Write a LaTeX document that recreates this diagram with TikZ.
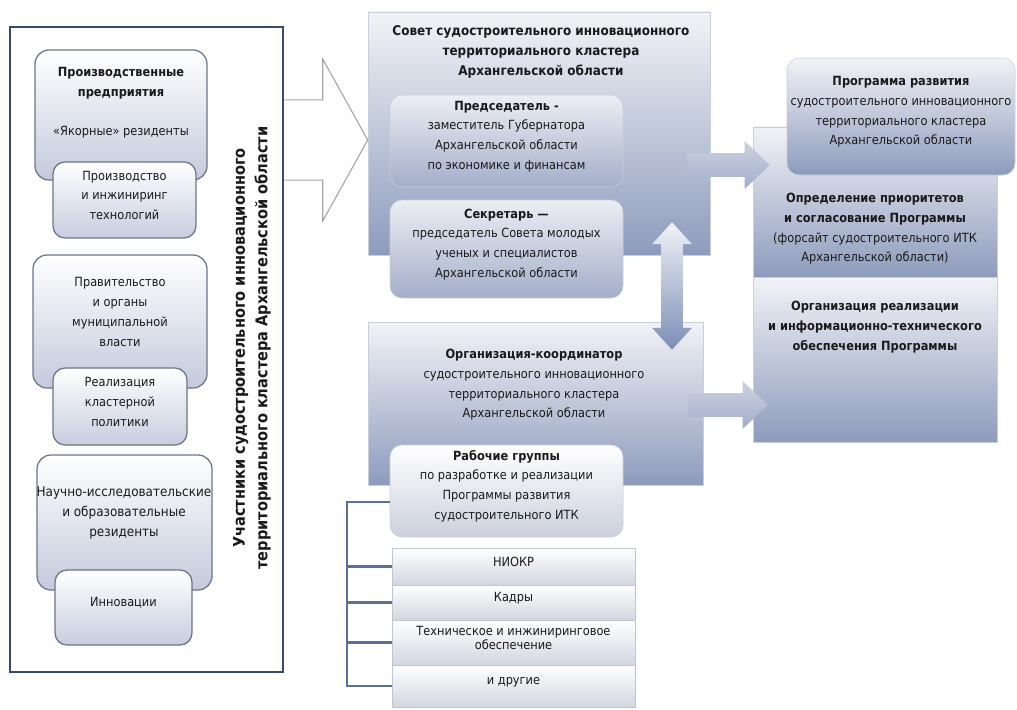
\documentclass[tikz,border=0pt]{standalone}
\usepackage{fontspec}
\setmainfont{DejaVu Sans Condensed}
\usetikzlibrary{fit,calc}

\definecolor{ink}{HTML}{1A1A1A}
\definecolor{framecol}{HTML}{3B4A6A}
\definecolor{edgegray}{HTML}{6C7488}
\definecolor{partlow}{HTML}{C3CADC}
\definecolor{sublow}{HTML}{C6CDDE}
\definecolor{paneltop}{HTML}{F2F3F7}
\definecolor{panellow}{HTML}{8D9BBC}
\definecolor{innertop}{HTML}{ECEEF4}
\definecolor{innerlow}{HTML}{A3AEC9}
\definecolor{innerline}{HTML}{C9CED9}
\definecolor{wglow}{HTML}{CBD0DD}
\definecolor{rowlow}{HTML}{D2D6E0}
\definecolor{rowline}{HTML}{C0C5CF}
\definecolor{bracketblue}{HTML}{5C6F95}
\definecolor{arrowtop}{HTML}{CDD2E2}
\definecolor{arrowmid}{HTML}{EEEFF4}
\definecolor{arrowlow}{HTML}{A2ADC9}
\definecolor{varrowtop}{HTML}{F1F3F7}
\definecolor{varrowlow}{HTML}{7A8EB5}
\definecolor{hollowline}{HTML}{A6A6A6}

\tikzset{
  every node/.style={font=\fontsize{9}{14}\selectfont, text=ink},
  txt/.style={align=center, inner sep=0pt},
  frame/.style={draw=framecol, line width=2pt, inner sep=0pt},
  partbox/.style={draw=edgegray, line width=0.9pt, rounded corners=0.35cm,
    top color=white, bottom color=partlow, inner sep=0pt, align=center},
  subbox/.style={partbox, rounded corners=0.3cm, bottom color=sublow},
  panel/.style={draw=innerline, line width=0.4pt, top color=paneltop,
    bottom color=panellow, inner sep=0pt},
  innerbox/.style={draw=innerline, line width=0.4pt, rounded corners=0.3cm,
    top color=innertop, bottom color=innerlow, inner sep=0pt, align=center},
  wgbox/.style={innerbox, top color=white, bottom color=wglow},
  rowbox/.style={draw=rowline, line width=0.4pt, top color=white,
    bottom color=rowlow, inner sep=0pt, align=center},
  bracket/.style={draw=bracketblue, line width=1.8pt},
  hollowarrow/.style={draw=hollowline, line width=0.8pt, fill=white},
  flatarrow/.style={top color=arrowtop, middle color=arrowmid, bottom color=arrowlow},
  tallarrow/.style={top color=varrowtop, bottom color=varrowlow}
}

\begin{document}
\begin{tikzpicture}[x=0.025cm,y=-0.025cm]
\useasboundingbox (0,0) rectangle (1017,709);

% participants
\node[frame, fit={(10,27) (283,672)}] (part) {};
\node[partbox, fit={(35,50) (207,180)}] (prod) {};
\node[txt] (prodtxt) at (121,103) {\textbf{Производственные}\\\textbf{предприятия}\\[14pt]«Якорные» резиденты};
\node[subbox, fit={(53,162) (196,238)}] (prodsub) {Производство\\и инжиниринг\\технологий};

\node[partbox, fit={(33,255) (207,388)}] (gov) {};
\node[txt] (govtxt) at (120,312) {Правительство\\и органы\\муниципальной\\власти};
\node[subbox, fit={(53,368) (187,445)}] (govsub) {Реализация\\кластерной\\политики};

\node[partbox, fit={(37,455) (212,590)}] (sci) {};
\node[txt, font=\fontsize{9.5}{14}\selectfont] (scitxt) at (124,513) {Научно-исследовательские\\и образовательные\\резиденты};
\node[subbox, fit={(55,570) (192,645)}] (scisub) {Инновации};

\node[txt, rotate=90, font=\fontsize{11.5}{16}\selectfont\bfseries] (parttitle) at (252,348)
  {Участники судостроительного инновационного\\территориального кластера Архангельской области};

% council
\node[panel, fit={(368,12) (710,255)}] (council) {};
\node[txt, font=\fontsize{9.5}{14.5}\selectfont\bfseries] (counciltxt) at (541,52)
  {Совет судостроительного инновационного\\территориального кластера\\Архангельской области};
\node[innerbox, fit={(390,95) (623,187)}] (chair)
  {\textbf{Председатель -}\\заместитель Губернатора\\Архангельской области\\по экономике и финансам};
\node[innerbox, fit={(390,200) (623,298)}] (secr)
  {\textbf{Секретарь —}\\председатель Совета молодых\\ученых и специалистов\\Архангельской области};

% coordinator
\node[panel, fit={(368,322) (703,485)}] (coord) {};
\node[txt] (coordtxt) at (534,385)
  {\textbf{Организация-координатор}\\судостроительного инновационного\\территориального кластера\\Архангельской области};
\node[wgbox, fit={(390,445) (623,537)}] (wg)
  {\textbf{Рабочие группы}\\по разработке и реализации\\Программы развития\\судостроительного ИТК};

\node[rowbox, fit={(392,548) (635,585)}] (r1) {НИОКР};
\node[rowbox, fit={(392,585) (635,620)}] (r2) {Кадры};
\node[rowbox, fit={(392,620) (635,665)}, font=\fontsize{9}{10.5}\selectfont] (r3) {Техническое и инжиниринговое\\обеспечение};
\node[rowbox, fit={(392,665) (635,707)}] (r4) {и другие};

\coordinate (bx) at (347,0);
\draw[bracket] ([yshift=-7.8pt]wg.west) -| (bx |- r4.west) -- (r4.west);
\foreach \r in {r1,r2,r3}
  \draw[bracket] (bx |- \r.west) -- (\r.west);

% programme
\node[panel, fit={(753,127) (997,277)}] (prio) {};
\node[panel, fit={(753,277) (997,442)}] (impl) {};
\node[innerbox, fit={(787,58) (1015,175)}, top color=paneltop, bottom color=panellow] (prog)
  {\textbf{Программа развития}\\судостроительного инновационного\\территориального кластера\\Архангельской области};
\node[txt] (priotxt) at (875,229)
  {\textbf{Определение приоритетов}\\\textbf{и согласование Программы}\\(форсайт судостроительного ИТК\\Архангельской области)};
\node[txt, font=\fontsize{9}{14}\selectfont\bfseries] (impltxt) at (875,327)
  {Организация реализации\\и информационно-технического\\обеспечения Программы};

% block arrows
\path[hollowarrow] let \p1=(part.east |- 0,140), \p2=(council.west |- 0,140) in
  (\x1,\y1+28.5pt) -- (\x2-32pt,\y1+28.5pt) -- (\x2-32pt,\y1+57.6pt) -- (\x2,\y2)
  -- (\x2-32pt,\y1-57.6pt) -- (\x2-32pt,\y1-28.5pt) -- (\x1,\y1-28.5pt);

\path[flatarrow] let \p1=($(council.east |- 0,165)+(-23,0)$), \p2=($(prio.west |- 0,165)+(17,0)$) in
  (\x1,\y1+8.5pt) -- (\x2-17.8pt,\y1+8.5pt) -- (\x2-17.8pt,\y1+17pt) -- (\x2,\y1)
  -- (\x2-17.8pt,\y1-17pt) -- (\x2-17.8pt,\y1-8.5pt) -- (\x1,\y1-8.5pt) -- cycle;

\path[flatarrow] let \p1=($(coord.east |- 0,405)+(-15,0)$), \p2=($(impl.west |- 0,405)+(15,0)$) in
  (\x1,\y1+8.5pt) -- (\x2-17.8pt,\y1+8.5pt) -- (\x2-17.8pt,\y1+17pt) -- (\x2,\y1)
  -- (\x2-17.8pt,\y1-17pt) -- (\x2-17.8pt,\y1-8.5pt) -- (\x1,\y1-8.5pt) -- cycle;

\path[tallarrow] let \p1=($(council.south -| 672,0)+(0,-33)$), \p2=($(coord.north -| 672,0)+(0,28)$) in
  (\x1,\y1) -- (\x1+14.2pt,\y1-15.6pt) -- (\x1+7.8pt,\y1-15.6pt) -- (\x1+7.8pt,\y2+15.6pt)
  -- (\x1+14.2pt,\y2+15.6pt) -- (\x1,\y2) -- (\x1-14.2pt,\y2+15.6pt) -- (\x1-7.8pt,\y2+15.6pt)
  -- (\x1-7.8pt,\y1-15.6pt) -- (\x1-14.2pt,\y1-15.6pt) -- cycle;
\end{tikzpicture}
\end{document}
